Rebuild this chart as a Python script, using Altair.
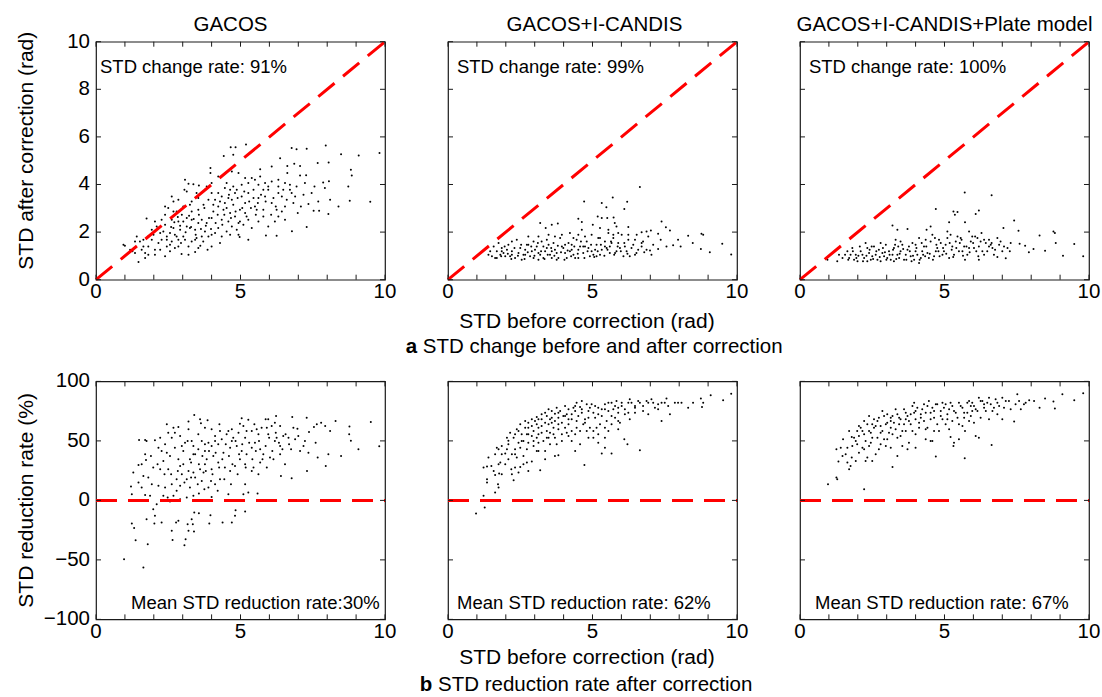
import altair as alt
import pandas as pd

FONT = "Liberation Sans"
W, H = 289, 238
FRAME = "#1a1a1a"

panel_titles = ["GACOS", "GACOS+I-CANDIS", "GACOS+I-CANDIS+Plate model"]
title_dx = [-10, 2, 0]
change_texts = ["STD change rate: 91%", "STD change rate: 99%", "STD change rate: 100%"]
change_text_x = [4, 9, 9]
reduction_texts = ["Mean STD reduction rate:30%", "Mean STD reduction rate: 62%", "Mean STD reduction rate: 67%"]
reduction_text_x = [35, 9, 15]
x_label_values = [0, 5, 10]
x_label_texts = ["0", "5", "10"]
x_tick_values = list(range(0, 11))
after_tick_values = [0, 2, 4, 6, 8, 10]
after_tick_texts = ["0", "2", "4", "6", "8", "10"]
rate_tick_values = [-100, -50, 0, 50, 100]
rate_tick_texts = ["\u2212100", "\u221250", "0", "50", "100"]
x_title = "STD before correction (rad)"
after_title = "STD after correction (rad)"
rate_title = "STD reduction rate (%)"
caption_a = ["a", "STD change before and after correction"]
caption_b = ["b", "STD reduction rate after correction"]

# (STD before, STD after) - GACOS
gacos_after = [
    (0.95, 1.47), (1.0, 1.43), (1.26, 1.19), (1.47, 0.74), (1.70, 0.91), (2.04, 1.05), (2.39, 0.98), (2.96, 1.08),
    (3.20, 1.05), (3.43, 1.16), (4.66, 5.57), (4.83, 5.57), (5.19, 5.68), (6.77, 5.53), (6.94, 5.48), (7.29, 5.50),
    (7.95, 5.64), (8.48, 5.27), (9.09, 5.22), (9.81, 5.32), (4.42, 5.2), (4.75, 5.25), (6.37, 5.1), (6.62, 4.78),
    (6.86, 4.87), (7.06, 4.78), (7.67, 4.9), (8.05, 4.92), (8.82, 4.62), (8.85, 4.38), (3.96, 4.69), (3.96, 4.48),
    (5.68, 4.64), (6.08, 4.76), (6.62, 4.48), (7.06, 4.38), (7.27, 4.39), (7.86, 4.08), (8.06, 4.14), (8.73, 3.92),
    (8.78, 3.32), (9.49, 3.27), (7.56, 3.92), (8.10, 3.36), (7.35, 3.18), (7.53, 2.90), (7.72, 2.90), (8.04, 2.76),
    (6.98, 2.80), (7.29, 2.21), (6.78, 2.04), (5.88, 1.86), (6.25, 1.85), (4.97, 1.79), (5.27, 1.68), (4.29, 1.54),
    (3.61, 1.43), (3.86, 1.26), (3.08, 4.2), (3.20, 4.03), (3.37, 4.01), (3.56, 3.96), (3.06, 3.78), (2.62, 3.5),
    (2.68, 3.29), (1.75, 2.57), (2.04, 2.45), (1.41, 1.82), (4.23, 3.64), (4.46, 3.85), (4.64, 3.78), (4.87, 3.78),
    (5.04, 3.99), (5.27, 4.06), (5.50, 4.2), (5.62, 3.99), (5.85, 4.06), (6.08, 4.13), (6.31, 3.92), (6.48, 3.78),
    (6.71, 3.99), (5.85, 3.5), (5.62, 3.43), (5.50, 3.08), (5.56, 2.94), (5.16, 3.22), (4.98, 2.94), (4.70, 3.36),
    (4.46, 3.22), (4.23, 3.08), (4.06, 2.87), (3.89, 3.36), (3.72, 3.15), (3.54, 2.94), (3.31, 2.52), (3.14, 2.59),
    (2.97, 2.73), (2.85, 2.45), (2.68, 2.17), (2.56, 1.96), (2.45, 1.82), (2.27, 1.68), (2.16, 1.54), (1.93, 1.68),
    (1.81, 1.40), (1.64, 1.68), (2.85, 1.68), (3.02, 1.82), (3.25, 2.17), (3.43, 2.10), (3.66, 2.52), (3.83, 2.38),
    (4.0, 2.59), (4.35, 2.52), (4.58, 2.45), (4.81, 2.66), (5.1, 2.31), (5.39, 2.17), (5.96, 2.24), (6.31, 2.66),
    (6.25, 2.94), (6.54, 3.08), (6.83, 3.22), (6.43, 3.5), (6.08, 3.22), (3.43, 1.68), (3.66, 1.82), (3.20, 1.40),
    (2.73, 1.33), (2.45, 1.40), (2.04, 1.26), (2.22, 1.96), (2.39, 2.31), (2.62, 2.52), (2.79, 2.87), (3.02, 3.08),
    (3.31, 3.29), (3.48, 3.64), (3.77, 3.78), (4.0, 3.64), (4.12, 3.36), (4.41, 2.94), (4.64, 2.80), (4.87, 2.10),
    (4.52, 2.03), (4.23, 2.17), (4.0, 1.89), (3.77, 2.03), (3.54, 2.38), (3.31, 2.87), (3.14, 2.24), (2.91, 2.10),
    (2.79, 1.82), (2.62, 1.61), (2.33, 2.03), (2.10, 2.24), (1.93, 2.10), (1.58, 1.26), (1.35, 1.12), (1.81, 1.05),
    (5.27, 3.64), (5.45, 3.43), (5.79, 3.78), (5.96, 3.92), (5.04, 3.5), (4.81, 3.64), (4.58, 3.43), (4.35, 3.5),
    (4.52, 4.06), (4.75, 3.92), (5.39, 4.27), (5.68, 4.34), (5.16, 4.27), (4.93, 4.48), (4.70, 4.55), (4.23, 4.34),
    (6.31, 4.2), (6.54, 4.06), (6.94, 3.92), (7.18, 3.57), (6.77, 3.64), (6.54, 2.52), (6.19, 2.45), (5.79, 2.66),
    (5.62, 2.45), (5.27, 2.52), (5.16, 2.80), (4.93, 2.38), (4.70, 2.24),
    (2.39, 2.73), (2.50, 3.01), (2.60, 2.21), (2.71, 2.41), (2.83, 2.63), (2.91, 2.27), (3.02, 2.45), (3.10, 1.99),
    (3.22, 2.69), (3.29, 2.21), (3.38, 2.55), (3.45, 1.89), (3.56, 2.73), (3.63, 2.13), (3.75, 3.01), (3.80, 2.27),
    (3.91, 2.59), (3.98, 2.13), (4.06, 3.15), (4.14, 2.38), (4.21, 2.73), (4.29, 3.29), (4.37, 2.31), (4.44, 2.73),
    (4.52, 3.01), (4.60, 3.57), (4.67, 2.59), (4.75, 3.15), (4.83, 2.87), (4.90, 3.43), (4.98, 2.45), (5.06, 3.01),
    (5.13, 3.71), (5.21, 2.66), (5.30, 3.29), (5.36, 3.01), (5.45, 3.78), (5.53, 2.73), (5.60, 3.22), (5.71, 3.57),
    (5.79, 2.94), (5.87, 3.29), (5.96, 3.78), (6.06, 2.73), (6.14, 3.43), (6.22, 3.08), (6.31, 3.64), (6.43, 2.87),
    (6.60, 3.36), (6.71, 3.78), (6.89, 3.50), (7.09, 3.08), (7.23, 4.06), (7.46, 3.64), (7.69, 3.29), (7.92, 3.85),
    (8.39, 3.08), (1.99, 1.89), (2.16, 2.17), (2.27, 2.52), (2.45, 1.68), (2.56, 1.47), (2.73, 1.89), (2.94, 1.54),
    (3.08, 1.68), (3.31, 1.61), (3.48, 1.75), (3.71, 1.61), (3.89, 1.82), (4.12, 1.96), (4.35, 1.82), (4.64, 1.89),
    (4.93, 1.89), (1.64, 1.40), (1.52, 1.61), (1.81, 1.82), (1.35, 1.61), (1.18, 1.26), (1.70, 1.12), (2.22, 1.26),
    (2.56, 1.19), (2.85, 1.40), (3.54, 1.33), (4.0, 1.40), (3.14, 3.71), (2.85, 3.36), (3.54, 3.43), (3.83, 3.92),
    (4.0, 4.06), (3.25, 3.15), (2.39, 3.08), (2.68, 2.87),
]

# (STD before, STD after) - GACOS+I-CANDIS
icandis_after = [
    (6.64, 3.89), (5.70, 3.45), (4.71, 3.29), (5.32, 3.22), (6.20, 3.27), (5.48, 3.04), (6.10, 2.97), (5.18, 2.66),
    (5.32, 2.59), (5.51, 2.59), (5.73, 2.61), (4.51, 2.56), (3.19, 2.38), (3.38, 2.17), (3.59, 2.31), (3.80, 2.36),
    (4.63, 2.42), (5.01, 2.31), (5.26, 2.17), (5.77, 2.38), (5.83, 2.24), (6.24, 2.21), (7.39, 2.45), (7.54, 2.2),
    (7.68, 2.07), (8.31, 1.85), (8.77, 1.93), (8.83, 1.89), (9.49, 1.51), (9.8, 1.06), (9.06, 1.15), (8.75, 1.29),
    (8.47, 1.54), (8.05, 1.4), (7.96, 1.68), (7.79, 1.45), (7.56, 1.40), (7.27, 1.29), (6.99, 1.23), (7.04, 1.05),
    (6.79, 1.15), (6.70, 1.99), (6.87, 2.03), (7.02, 2.07), (7.27, 1.93), (7.36, 1.68), (1.35, 1.33), (1.52, 0.98),
    (1.69, 1.19), (1.75, 1.54), (1.86, 1.33), (1.98, 0.98), (2.09, 1.47), (2.21, 1.19), (2.32, 0.91), (2.38, 1.68),
    (2.50, 1.33), (2.61, 1.05), (2.73, 1.47), (2.78, 1.82), (2.90, 1.19), (2.96, 0.91), (3.07, 1.40), (3.13, 1.12),
    (3.24, 1.61), (3.30, 0.91), (3.42, 1.33), (3.48, 1.89), (3.53, 1.05), (3.65, 1.54), (3.70, 1.26), (3.82, 0.91),
    (3.88, 1.75), (3.94, 1.40), (4.05, 1.12), (4.17, 1.54), (4.22, 1.96), (4.28, 1.26), (4.40, 0.91), (4.45, 1.68),
    (4.57, 1.40), (4.63, 2.10), (4.68, 1.12), (4.80, 1.61), (4.86, 1.33), (4.97, 1.89), (5.03, 1.05), (5.14, 1.47),
    (5.20, 1.75), (5.32, 1.26), (5.43, 1.61), (5.55, 1.96), (5.60, 1.40), (5.72, 1.75), (5.83, 1.19), (5.89, 1.54),
    (6.01, 1.89), (6.12, 1.40), (6.24, 1.68), (6.29, 0.98), (6.41, 1.47), (6.53, 1.89), (6.58, 1.26), (6.75, 1.61),
    (6.93, 1.82), (7.10, 1.47), (1.63, 0.91), (1.92, 1.12), (2.04, 1.26), (2.15, 0.98), (2.44, 1.12), (2.55, 0.84),
    (2.67, 1.26), (2.84, 0.98), (3.01, 1.26), (3.19, 1.05), (3.36, 1.19), (3.59, 0.91), (3.76, 1.12), (3.99, 1.33),
    (4.11, 0.91), (4.34, 1.05), (4.51, 1.26), (4.74, 1.40), (4.91, 0.98), (5.09, 1.26), (5.26, 1.05), (5.49, 1.33),
    (5.66, 1.54), (5.78, 1.12), (5.95, 1.33), (6.18, 1.19), (6.47, 1.68), (6.70, 1.40), (2.21, 1.61), (3.13, 1.82),
    (3.70, 1.82), (3.94, 1.89), (4.51, 1.89), (4.74, 1.82), (5.55, 2.10), (5.89, 1.96), (2.78, 1.47), (3.48, 1.47),
    (4.28, 1.47), (1.81, 1.05), (1.40, 1.05),
    (1.46, 1.19), (1.58, 1.40), (1.84, 0.98), (1.96, 1.40), (2.07, 1.09), (2.19, 0.87), (2.30, 1.33), (2.42, 1.01),
    (2.53, 1.47), (2.65, 0.87), (2.76, 1.15), (2.88, 1.40), (2.99, 1.01), (3.11, 1.54), (3.22, 1.19), (3.34, 0.87),
    (3.45, 1.05), (3.57, 1.33), (3.68, 1.01), (3.80, 1.43), (3.91, 1.15), (4.03, 0.84), (4.14, 1.23), (4.26, 0.98),
    (4.37, 1.40), (4.49, 1.09), (4.60, 1.61), (4.72, 0.91), (4.83, 1.19), (4.95, 1.47), (5.06, 0.95), (5.18, 1.19),
    (5.29, 1.47), (5.41, 1.01), (5.52, 1.26), (5.64, 1.61), (5.75, 1.05), (5.87, 1.40), (5.98, 1.19), (6.10, 1.54),
    (6.21, 1.09), (6.35, 1.33), (6.52, 1.12), (6.70, 1.54), (6.87, 1.26), (2.21, 1.05), (2.67, 1.05), (3.13, 0.84),
    (3.59, 1.19), (4.05, 1.47), (4.51, 0.91), (4.97, 1.19), (5.43, 1.40), (1.86, 1.19), (1.69, 0.91), (3.30, 1.40),
    (3.76, 0.84), (4.22, 1.19), (4.68, 1.40), (5.14, 0.98), (5.60, 1.12), (6.07, 0.98), (6.47, 1.05), (2.96, 1.61),
    (3.42, 1.68), (4.34, 1.75), (5.26, 1.75), (5.72, 1.89), (6.24, 1.89),
]

# (STD before, STD after) - GACOS+I-CANDIS+Plate model
plate_after = [
    (5.70, 3.66), (6.63, 3.55), (4.70, 2.97), (5.31, 2.87), (5.45, 2.84), (5.36, 2.73), (6.08, 2.76), (6.19, 2.91),
    (5.16, 2.41), (5.71, 2.41), (3.20, 2.28), (3.37, 2.10), (3.72, 2.13), (4.38, 2.10), (4.52, 2.24), (5.10, 2.03),
    (5.85, 2.03), (6.28, 1.96), (7.04, 2.17), (7.41, 2.49), (7.56, 2.06), (8.29, 1.86), (8.77, 2.03), (8.82, 1.96),
    (8.85, 1.54), (9.49, 1.50), (9.80, 0.98), (9.1, 1.01), (8.48, 1.22), (8.08, 1.29), (7.92, 1.15), (7.60, 1.51),
    (7.79, 1.43), (7.26, 1.19), (7.12, 0.90), (6.83, 0.95), (6.19, 0.84), (0.95, 0.84), (1.29, 0.77), (1.47, 0.91),
    (1.64, 1.19), (1.70, 0.91), (1.81, 1.33), (1.93, 1.05), (1.99, 0.77), (2.10, 1.19), (2.22, 0.91), (2.27, 1.54),
    (2.39, 1.12), (2.45, 0.84), (2.56, 1.40), (2.62, 1.05), (2.73, 1.26), (2.79, 0.77), (2.91, 0.98), (2.97, 1.47),
    (3.08, 1.19), (3.14, 0.84), (3.25, 1.33), (3.31, 1.68), (3.37, 1.05), (3.48, 1.19), (3.54, 1.47), (3.60, 0.84),
    (3.72, 1.26), (3.83, 0.98), (3.89, 1.54), (4.0, 1.19), (4.12, 1.75), (4.18, 0.91), (4.29, 1.40), (4.41, 1.12),
    (4.52, 1.61), (4.58, 1.89), (4.64, 0.98), (4.75, 1.33), (4.87, 1.54), (4.98, 1.19), (5.10, 1.75), (5.16, 0.91),
    (5.27, 1.40), (5.39, 1.61), (5.50, 1.19), (5.56, 1.75), (5.68, 1.40), (5.79, 1.05), (5.91, 1.61), (6.02, 1.33),
    (6.14, 1.75), (6.31, 1.19), (6.43, 1.54), (6.54, 1.68), (6.66, 1.33), (6.83, 1.75), (6.89, 1.47), (7.0, 1.19),
    (7.29, 1.54), (1.35, 1.05), (1.75, 1.05), (1.87, 0.84), (2.16, 1.05), (2.33, 1.33), (2.50, 0.98), (2.68, 0.84),
    (2.85, 1.12), (3.02, 0.91), (3.20, 1.05), (3.43, 0.91), (3.66, 1.05), (3.77, 1.40), (3.95, 0.84), (4.06, 1.05),
    (4.23, 1.19), (4.46, 0.91), (4.70, 1.19), (4.93, 1.05), (5.04, 1.47), (5.33, 1.05), (5.62, 1.19), (5.85, 1.33),
    (6.19, 1.40), (6.48, 1.19), (6.71, 1.05), (7.06, 1.40), (2.79, 1.54), (3.48, 1.61), (4.0, 1.47), (4.35, 1.68),
    (4.81, 1.68), (5.21, 1.89), (5.45, 1.82), (5.96, 1.82), (6.37, 1.68), (6.60, 1.47),
    (1.56, 1.05), (1.67, 0.84), (1.83, 1.19), (1.95, 0.91), (2.07, 1.40), (2.18, 0.77), (2.30, 1.01), (2.41, 1.26),
    (2.53, 0.87), (2.64, 1.19), (2.76, 0.95), (2.87, 1.33), (2.99, 0.84), (3.10, 1.05), (3.22, 1.26), (3.33, 0.87),
    (3.45, 1.09), (3.57, 1.29), (3.68, 0.84), (3.80, 1.19), (3.91, 1.01), (4.03, 1.33), (4.14, 0.84), (4.26, 1.05),
    (4.37, 1.40), (4.49, 1.09), (4.60, 0.84), (4.72, 1.47), (4.83, 0.98), (4.95, 1.33), (5.06, 1.09), (5.18, 1.54),
    (5.30, 0.95), (5.41, 1.33), (5.53, 1.54), (5.64, 1.01), (5.76, 1.40), (5.87, 1.15), (5.99, 1.54), (6.10, 1.19),
    (6.25, 1.61), (6.37, 1.05), (6.54, 1.40), (6.75, 1.26), (6.94, 1.61), (7.18, 1.33), (2.02, 1.01), (2.48, 1.40),
    (2.94, 1.15), (3.40, 1.40), (3.86, 0.77), (4.33, 0.98), (4.79, 1.19), (5.25, 1.26), (5.71, 0.84), (6.17, 0.98),
    (6.63, 1.54), (3.29, 1.47), (4.21, 1.54), (4.67, 1.75), (5.59, 1.68), (6.06, 1.82), (2.33, 0.77), (3.25, 0.77),
    (4.12, 0.70),
]

# (STD before, reduction rate %) - GACOS
gacos_rate = [
    (3.40, 71.8), (3.20, 66.2), (3.60, 68.1), (3.86, 67.3), (2.85, 61.7), (2.45, 63.9), (2.68, 61.1), (4.27, 63.9),
    (3.63, 64.8), (4.98, 64.5), (5.04, 69.0), (5.27, 67.8), (5.48, 63.9), (5.87, 68.1), (5.96, 68.1), (6.23, 70.9),
    (6.19, 65.3), (6.08, 62.5), (6.79, 70.1), (7.29, 69.5), (6.97, 60.3), (7.37, 57.5), (7.54, 61.7), (7.64, 63.9),
    (7.79, 65.3), (7.93, 62.5), (8.1, 58.3), (8.29, 66.7), (8.77, 62.0), (8.76, 55.5), (8.82, 50.1), (9.51, 65.9),
    (9.08, 43.0), (9.80, 45.5), (8.48, 37.3), (7.95, 28.9), (7.30, 24.8), (7.67, 36.0), (8.04, 38.7), (7.60, 48.5),
    (7.23, 49.9), (6.89, 51.3), (6.66, 52.7), (6.48, 54.1), (6.37, 45.7), (6.19, 49.9), (6.02, 36.0), (6.40, 20.6),
    (6.77, 18.6), (6.54, 30.4), (6.75, 42.9), (7.06, 41.5), (5.62, 22.0), (5.39, 24.8), (5.16, 13.6), (5.59, 5.7),
    (5.27, 6.6), (5.1, 5.2), (5.16, -9.4), (4.83, -8.3), (4.81, -13.0), (4.70, -18.6), (4.38, -18.6), (3.96, -12.4),
    (3.92, -19.4), (3.56, -10.8), (3.40, -10.2), (3.31, -15.8), (3.35, -20.0), (3.17, -20.0), (3.39, -26.2),
    (3.20, -25.6), (3.10, -32.6), (3.06, -37.6), (2.85, -17.2), (2.77, -18.6), (2.62, -25.6), (2.65, -33.2),
    (2.27, -18.6), (2.04, -13.0), (2.02, -19.4), (1.75, -15.8), (1.79, -36.8), (1.37, -33.4), (1.32, -23.1),
    (1.24, -19.4), (1.98, -7.4), (2.1, -3.2), (2.56, -1.0), (2.91, 1.0), (3.14, 2.4), (3.56, 5.7), (4.0, 2.9),
    (3.37, 3.8), (2.68, 3.8), (2.48, 2.4), (1.70, 4.6), (1.24, 5.2), (1.21, 11.6), (1.47, 15.0), (1.29, 23.4),
    (1.47, 29.8), (1.58, 30.4), (1.73, 34.0), (1.70, 38.7), (1.49, 50.8), (1.70, 50.8), (1.75, 50.0), (2.04, 50.5),
    (2.16, 44.3), (2.39, 47.1), (2.56, 37.3), (2.45, 40.1), (2.33, 33.2), (2.22, 26.2), (1.98, 27.6), (1.81, 19.2),
    (1.93, 13.6), (2.16, 12.2), (2.39, 10.8), (2.62, 13.6), (2.79, 17.8), (2.97, 22.0), (3.20, 24.8), (3.43, 19.2),
    (3.66, 16.4), (3.89, 10.8), (4.12, 13.6), (4.29, 17.8), (4.58, 5.2), (2.85, 34.6), (3.02, 30.4), (3.25, 34.6),
    (3.37, 38.7), (3.54, 42.9), (3.77, 41.5), (4.0, 45.7), (4.23, 47.1), (4.35, 51.3), (4.52, 55.5), (4.70, 49.9),
    (4.87, 45.7), (5.04, 41.5), (5.21, 38.7), (5.39, 44.3), (5.50, 48.5), (5.68, 42.9), (5.79, 38.7), (5.62, 55.5),
    (5.39, 58.3), (5.73, 61.1), (5.96, 55.5), (6.25, 52.7), (6.37, 38.7), (6.14, 34.6), (5.91, 27.6), (5.68, 31.8),
    (5.45, 27.6), (5.16, 30.4), (4.98, 34.6), (4.81, 29.0), (4.64, 24.8), (4.46, 27.6), (4.23, 31.8), (4.0, 26.2),
    (3.77, 30.4), (3.60, 26.2), (3.37, 23.4), (3.14, 17.8), (2.91, 12.2), (3.83, 34.6), (4.06, 37.3), (4.41, 40.1),
    (4.64, 44.3), (4.75, 52.7), (4.93, 56.9), (5.16, 52.7), (5.21, 58.3), (3.54, 55.5), (3.31, 49.9), (3.08, 48.5),
    (2.91, 54.1), (2.62, 52.7), (3.66, 49.9), (3.89, 48.5), (4.12, 54.1), (4.0, 59.7), (3.77, 61.1), (4.58, 58.3),
    (0.97, -49.5), (1.64, -56.5),
    (2.27, 41.5), (2.50, 26.2), (2.73, 44.3), (2.91, 29.0), (3.02, 41.5), (3.17, 49.9), (3.29, 31.8), (3.43, 38.7),
    (3.56, 30.4), (3.68, 37.3), (3.80, 24.8), (3.91, 41.5), (4.03, 22.0), (4.14, 40.1), (4.26, 27.6), (4.37, 34.6),
    (4.49, 47.1), (4.60, 37.3), (4.72, 30.4), (4.83, 49.9), (4.95, 38.7), (5.06, 47.1), (5.18, 27.6), (5.30, 48.5),
    (5.41, 34.6), (5.53, 41.5), (5.64, 49.9), (5.76, 34.6), (5.87, 45.7), (5.99, 52.7), (6.10, 41.5), (6.22, 56.9),
    (6.33, 48.5), (6.45, 42.9), (6.56, 55.5), (6.68, 47.1), (6.83, 61.1), (7.0, 54.1), (7.18, 45.7), (7.35, 40.1),
    (1.90, 37.3), (2.13, 30.4), (2.37, 22.0), (2.60, 22.0), (2.83, 24.8), (3.06, 15.0), (3.29, 19.2), (3.52, 13.6),
    (3.75, 9.4), (3.98, 16.4), (4.21, 8.0), (4.44, 17.8), (4.67, 13.6), (4.90, 22.0), (2.79, 8.0), (3.25, 10.8),
    (3.72, 23.4), (2.33, 3.8), (1.87, 3.8), (1.58, 10.8), (1.64, 20.6), (2.97, 45.7), (3.37, 45.7), (3.77, 47.1),
    (4.12, 49.9), (4.29, 58.3), (4.70, 59.7), (5.10, 62.5), (5.56, 59.7), (5.91, 61.1), (6.37, 62.5), (2.73, 56.9),
    (3.20, 59.7), (2.50, 56.9), (2.22, 52.7),
]

# (STD before, reduction rate %) - GACOS+I-CANDIS
icandis_rate = [
    (0.97, -11.0), (1.27, -6.0), (1.23, 3.8), (1.63, 6.6), (1.75, 10.8), (1.73, 13.6), (1.35, 15.0), (1.35, 17.8),
    (1.63, 21.4), (1.77, 22.5), (2.27, 16.9), (1.23, 27.6), (1.35, 28.4), (1.50, 29.0), (1.81, 31.8), (1.40, 36.0),
    (1.63, 38.7), (1.75, 43.0), (1.69, 44.3), (1.86, 45.7), (1.98, 39.3), (2.09, 34.6), (2.19, 26.2), (2.32, 27.6),
    (2.50, 28.1), (2.61, 30.4), (2.73, 31.8), (2.90, 32.6), (3.19, 25.3), (2.61, 37.3), (2.38, 36.0), (2.21, 38.7),
    (2.04, 43.0), (2.09, 50.1), (2.04, 52.7), (2.15, 56.9), (2.32, 55.5), (2.44, 58.3), (2.50, 63.9), (2.67, 66.7),
    (2.78, 61.1), (2.90, 54.1), (2.96, 45.7), (3.07, 41.5), (3.36, 34.6), (3.70, 37.3), (3.82, 37.9), (3.36, 41.5),
    (3.53, 47.1), (3.30, 49.9), (3.13, 55.5), (2.90, 68.1), (3.07, 70.1), (3.24, 72.3), (3.36, 65.3), (3.53, 68.1),
    (3.65, 61.1), (3.70, 72.9), (3.88, 75.1), (3.99, 70.9), (3.94, 55.5), (3.94, 49.9), (4.17, 54.1), (4.28, 58.3),
    (4.45, 66.7), (4.40, 75.1), (4.57, 78.5), (4.45, 82.1), (4.34, 77.9), (4.11, 72.3), (4.17, 63.9), (4.40, 41.5),
    (4.57, 47.1), (4.72, 29.8), (4.86, 52.7), (4.91, 61.1), (4.86, 69.5), (4.91, 77.9), (4.80, 80.7), (5.09, 79.3),
    (5.20, 72.3), (5.26, 63.9), (5.20, 55.5), (5.43, 52.7), (5.20, 48.5), (5.43, 44.3), (5.32, 39.3), (5.66, 39.3),
    (5.49, 66.7), (5.55, 75.1), (5.43, 80.7), (5.66, 82.1), (5.83, 83.5), (5.89, 77.9), (5.78, 69.5), (5.95, 65.3),
    (6.12, 72.3), (6.10, 51.3), (6.21, 47.1), (6.24, 82.1), (6.29, 84.9), (6.47, 79.3), (6.64, 82.1), (6.64, 42.1),
    (6.75, 75.1), (6.87, 83.5), (7.04, 84.9), (7.10, 82.1), (7.27, 80.7), (7.39, 66.7), (7.50, 82.1), (7.56, 85.7),
    (7.68, 72.3), (7.85, 82.1), (8.08, 82.1), (8.31, 77.9), (8.48, 82.1), (8.75, 85.7), (8.83, 82.1), (8.79, 78.5),
    (9.09, 88.3), (9.52, 84.1), (9.80, 89.7), (7.27, 76.5), (6.93, 72.3), (6.47, 73.7), (6.29, 68.1), (5.89, 59.7),
    (5.66, 63.9), (5.55, 58.3), (5.03, 58.3), (4.68, 63.9), (4.57, 58.3), (4.40, 55.5), (4.05, 61.1), (3.82, 63.9),
    (3.59, 65.3), (3.42, 58.3), (3.24, 62.5), (3.07, 63.9), (2.96, 58.3), (2.73, 55.5), (2.61, 49.9), (2.44, 48.5),
    (2.32, 43.0), (2.78, 48.5), (3.13, 48.5), (3.48, 52.7), (3.70, 52.7), (3.82, 69.5), (4.17, 68.1), (4.28, 72.3),
    (4.63, 73.7), (4.74, 68.1), (5.03, 73.7), (5.32, 76.5), (5.72, 76.5), (6.01, 79.3), (4.63, 83.5), (4.05, 79.3),
    (3.59, 75.1), (3.42, 70.9), (3.13, 68.1), (3.48, 76.5), (3.76, 77.9),
    (2.09, 47.1), (2.27, 52.7), (2.38, 59.7), (2.55, 55.5), (2.67, 61.1), (2.78, 65.3), (2.90, 62.5), (3.01, 66.7),
    (3.13, 61.1), (3.24, 68.1), (3.36, 73.7), (3.48, 63.9), (3.59, 69.5), (3.70, 66.7), (3.82, 73.7), (3.94, 65.3),
    (4.05, 70.9), (4.17, 76.5), (4.28, 68.1), (4.40, 79.3), (4.51, 70.9), (4.63, 76.5), (4.74, 65.3), (4.86, 75.1),
    (4.97, 80.7), (5.09, 69.5), (5.20, 77.9), (5.32, 70.9), (5.43, 76.5), (5.55, 82.1), (5.66, 70.9), (5.78, 79.3),
    (5.89, 73.7), (6.01, 82.1), (6.12, 76.5), (6.24, 73.7), (6.35, 82.1), (6.47, 77.9), (6.58, 83.5), (6.75, 79.3),
    (6.93, 82.1), (7.16, 77.9), (7.39, 82.1), (7.62, 79.3), (7.96, 82.1), (2.50, 44.3), (2.73, 43.0), (2.96, 49.9),
    (3.24, 56.9), (3.53, 56.9), (3.82, 59.7), (4.11, 56.9), (4.45, 61.1), (4.80, 58.3), (5.14, 61.1), (5.43, 61.1),
    (5.89, 66.7), (1.86, 38.7), (1.98, 30.4), (2.32, 38.7), (2.55, 49.9), (2.78, 55.5), (3.07, 52.7), (3.42, 52.7),
    (3.65, 55.5), (1.75, 30.4), (1.58, 24.8), (1.86, 22.0), (2.21, 22.0), (2.44, 23.4), (2.78, 24.8), (3.13, 41.5),
    (3.76, 47.1), (4.28, 49.9), (5.03, 52.7),
]

# (STD before, reduction rate %) - GACOS+I-CANDIS+Plate model
plate_rate = [
    (0.97, 13.6), (1.26, 19.2), (1.29, 17.8), (2.22, 9.4), (3.20, 28.1), (1.33, 32.6), (1.47, 37.3), (1.64, 31.8),
    (1.70, 26.2), (1.75, 28.9), (1.79, 36.0), (1.26, 42.9), (1.41, 44.3), (1.49, 51.3), (1.70, 58.3), (1.79, 53.3),
    (1.98, 47.1), (2.16, 44.3), (2.27, 33.2), (2.50, 33.2), (2.62, 38.7), (2.39, 45.7), (2.27, 49.9), (2.04, 54.1),
    (2.04, 62.5), (2.22, 66.7), (2.39, 70.9), (2.56, 68.1), (2.62, 62.5), (2.79, 56.9), (2.91, 51.3), (2.97, 45.7),
    (2.85, 75.1), (3.02, 72.3), (3.14, 66.7), (3.31, 59.7), (3.37, 37.3), (3.72, 42.9), (3.77, 48.5), (3.48, 54.1),
    (3.60, 63.9), (3.43, 69.5), (3.31, 76.5), (3.66, 73.7), (3.89, 79.3), (4.0, 68.1), (4.12, 61.1), (4.35, 51.3),
    (4.52, 49.9), (4.70, 36.8), (4.41, 61.1), (4.29, 80.7), (4.46, 83.5), (4.64, 75.1), (4.75, 63.9), (4.93, 68.1),
    (5.04, 80.7), (5.21, 53.3), (5.33, 48.5), (5.50, 51.3), (5.31, 45.7), (5.70, 35.4), (5.39, 73.7), (5.50, 82.1),
    (5.68, 69.5), (5.71, 58.3), (5.85, 83.5), (5.96, 75.1), (6.08, 54.1), (6.19, 52.7), (6.25, 69.5), (6.19, 86.3),
    (6.37, 80.7), (6.54, 86.3), (6.63, 46.6), (6.71, 77.9), (6.83, 82.1), (7.0, 68.1), (7.0, 86.3), (7.12, 83.5),
    (7.29, 76.5), (7.41, 66.2), (7.52, 89.1), (7.58, 83.5), (7.64, 76.5), (7.75, 80.7), (7.93, 84.1), (8.10, 83.5),
    (8.29, 77.9), (8.48, 85.7), (8.77, 83.0), (8.82, 77.3), (9.08, 89.1), (9.49, 84.1), (9.80, 90.0), (2.50, 63.9),
    (2.73, 69.5), (2.97, 63.9), (3.20, 70.9), (3.43, 63.9), (3.66, 68.1), (3.83, 72.3), (4.0, 75.1), (4.18, 69.5),
    (4.35, 73.7), (4.52, 68.1), (4.70, 80.7), (4.87, 75.1), (5.10, 72.3), (5.27, 66.7), (5.16, 76.5), (5.62, 77.9),
    (5.79, 73.7), (5.91, 79.3), (6.08, 76.5), (6.43, 75.1), (6.60, 80.7), (6.77, 84.9), (6.31, 83.5), (5.96, 82.1),
    (5.27, 79.3), (4.93, 82.1), (4.58, 77.9), (4.23, 76.5), (3.95, 82.1), (3.77, 66.7), (3.54, 58.3), (3.20, 55.5),
    (3.02, 51.3), (2.79, 47.1), (2.50, 52.7), (2.39, 58.3), (2.16, 58.3), (1.93, 49.9), (3.14, 61.1), (3.89, 58.3),
    (4.12, 65.3), (4.64, 58.3), (5.04, 63.9), (5.50, 63.9), (5.85, 66.7), (6.54, 68.1), (6.83, 72.3),
    (1.87, 52.7), (1.98, 58.3), (2.10, 61.1), (2.22, 55.5), (2.33, 63.9), (2.45, 56.9), (2.56, 61.1), (2.68, 66.7),
    (2.79, 62.5), (2.91, 70.9), (3.02, 65.3), (3.14, 69.5), (3.25, 65.3), (3.37, 72.3), (3.48, 68.1), (3.60, 76.5),
    (3.72, 70.9), (3.83, 63.9), (3.95, 73.7), (4.06, 77.9), (4.18, 72.3), (4.29, 66.7), (4.41, 79.3), (4.52, 73.7),
    (4.64, 69.5), (4.75, 80.7), (4.87, 70.9), (4.98, 77.9), (5.10, 68.1), (5.21, 82.1), (5.33, 75.1), (5.45, 69.5),
    (5.56, 79.3), (5.68, 73.7), (5.79, 82.1), (5.91, 70.9), (6.02, 79.3), (6.14, 75.1), (6.25, 83.5), (6.37, 77.9),
    (6.48, 82.1), (6.66, 75.1), (6.89, 79.3), (7.06, 77.9), (7.23, 83.5), (7.46, 80.7), (7.81, 82.1), (1.81, 45.7),
    (2.04, 40.1), (2.22, 42.9), (2.45, 48.5), (2.68, 52.7), (2.85, 58.3), (3.08, 56.9), (3.37, 52.7), (3.66, 58.3),
    (4.0, 55.5), (4.35, 59.7), (4.81, 58.3), (5.16, 59.7), (5.62, 62.5), (6.02, 65.3), (1.58, 38.7), (1.64, 44.3),
    (1.93, 33.2), (2.33, 36.0), (2.73, 42.9), (3.14, 44.3), (3.54, 45.7), (4.0, 44.3), (4.58, 49.9),
]

one_row = pd.DataFrame({"k": [0]})


def text_layer(txt, x, y, size, align="left", baseline="middle", weight="normal", angle=0):
    return alt.Chart(one_row).mark_text(
        text=txt, align=align, baseline=baseline, font=FONT, fontSize=size,
        fontWeight=weight, color="black", angle=angle
    ).encode(x=alt.value(x), y=alt.value(y))


def make_panel(pts, col, row):
    top = row == 0
    ydom = [0, 10] if top else [-100, 100]
    yvals = after_tick_values if top else rate_tick_values
    ytexts = after_tick_texts if top else rate_tick_texts
    xs = alt.Scale(domain=[0, 10], nice=False, zero=False)
    ys = alt.Scale(domain=ydom, nice=False, zero=False)

    df = pd.DataFrame(pts, columns=["x", "y"])
    points = alt.Chart(df).mark_circle(size=4, color="black", opacity=1).encode(
        x=alt.X("x:Q", scale=xs, axis=None), y=alt.Y("y:Q", scale=ys, axis=None))

    ref_df = pd.DataFrame({"x": [0, 10], "y": [0, 10] if top else [0, 0]})
    ref = alt.Chart(ref_df).mark_line(color="#ff0000", strokeWidth=3, strokeDash=[21, 11]).encode(
        x=alt.X("x:Q", scale=xs, axis=None), y=alt.Y("y:Q", scale=ys, axis=None))

    xt = pd.DataFrame({"t": x_tick_values})
    yt = pd.DataFrame({"t": yvals})
    tick_style = dict(color=FRAME, strokeWidth=1)
    tb = alt.Chart(xt).mark_rule(**tick_style).encode(
        x=alt.X("t:Q", scale=xs, axis=None), y=alt.value(H), y2=alt.value(H - 5))
    tt = alt.Chart(xt).mark_rule(**tick_style).encode(
        x=alt.X("t:Q", scale=xs, axis=None), y=alt.value(0), y2=alt.value(5))
    tl = alt.Chart(yt).mark_rule(**tick_style).encode(
        y=alt.Y("t:Q", scale=ys, axis=None), x=alt.value(0), x2=alt.value(5))
    tr = alt.Chart(yt).mark_rule(**tick_style).encode(
        y=alt.Y("t:Q", scale=ys, axis=None), x=alt.value(W - 5), x2=alt.value(W))

    xl_df = pd.DataFrame({"t": x_label_values, "lab": x_label_texts})
    xl = alt.Chart(xl_df).mark_text(font=FONT, fontSize=20.5, color="black", align="center",
                                    baseline="middle").encode(
        x=alt.X("t:Q", scale=xs, axis=None), y=alt.value(H + 12.5), text="lab:N")

    layers = [points, ref, tb, tt, tl, tr, xl]

    if col == 0:
        yl_df = pd.DataFrame({"t": yvals, "lab": ytexts})
        yl = alt.Chart(yl_df).mark_text(font=FONT, fontSize=20.5, color="black", align="right",
                                        baseline="middle").encode(
            y=alt.Y("t:Q", scale=ys, axis=None), x=alt.value(-6), text="lab:N")
        layers.append(yl)
        layers.append(text_layer(after_title if top else rate_title, -69, 109 if top else 119, 21,
                                 align="center", baseline="middle", angle=270))

    if top:
        layers.append(text_layer(panel_titles[col], W / 2 + title_dx[col], -11, 20.5,
                                 align="center", baseline="alphabetic"))
        layers.append(text_layer(change_texts[col], change_text_x[col], 25, 18.5))
    else:
        layers.append(text_layer(reduction_texts[col], reduction_text_x[col], 222, 18.5))

    if col == 1:
        layers.append(text_layer(x_title, 139, H + (42 if top else 39), 21,
                                 align="center", baseline="middle"))
        cap = caption_a if top else caption_b
        size = 20.5
        em_letter = 0.556 if top else 0.611
        em_rest = 17.54 if top else 16.10
        total = (em_letter + 0.278 + em_rest) * size
        start = 146 - total / 2
        cy = H + (67 if top else 66)
        layers.append(text_layer(cap[0], start, cy, size, weight="bold"))
        layers.append(text_layer(cap[1], start + (em_letter + 0.278) * size, cy, size))

    return alt.layer(*layers).properties(width=W, height=H)


panels = [
    make_panel(gacos_after, 0, 0), make_panel(icandis_after, 1, 0), make_panel(plate_after, 2, 0),
    make_panel(gacos_rate, 0, 1), make_panel(icandis_rate, 1, 1), make_panel(plate_rate, 2, 1),
]

chart = alt.concat(
    *panels, columns=3, spacing=alt.RowColnumber(row=101.7, column=63), bounds="flush"
).properties(
    padding={"left": 15, "top": 13.7, "right": 0, "bottom": 0},
    background="white",
).configure_view(stroke=FRAME, strokeWidth=1.2)

chart.save("out.html", embed_options={"renderer": "svg", "actions": False})
